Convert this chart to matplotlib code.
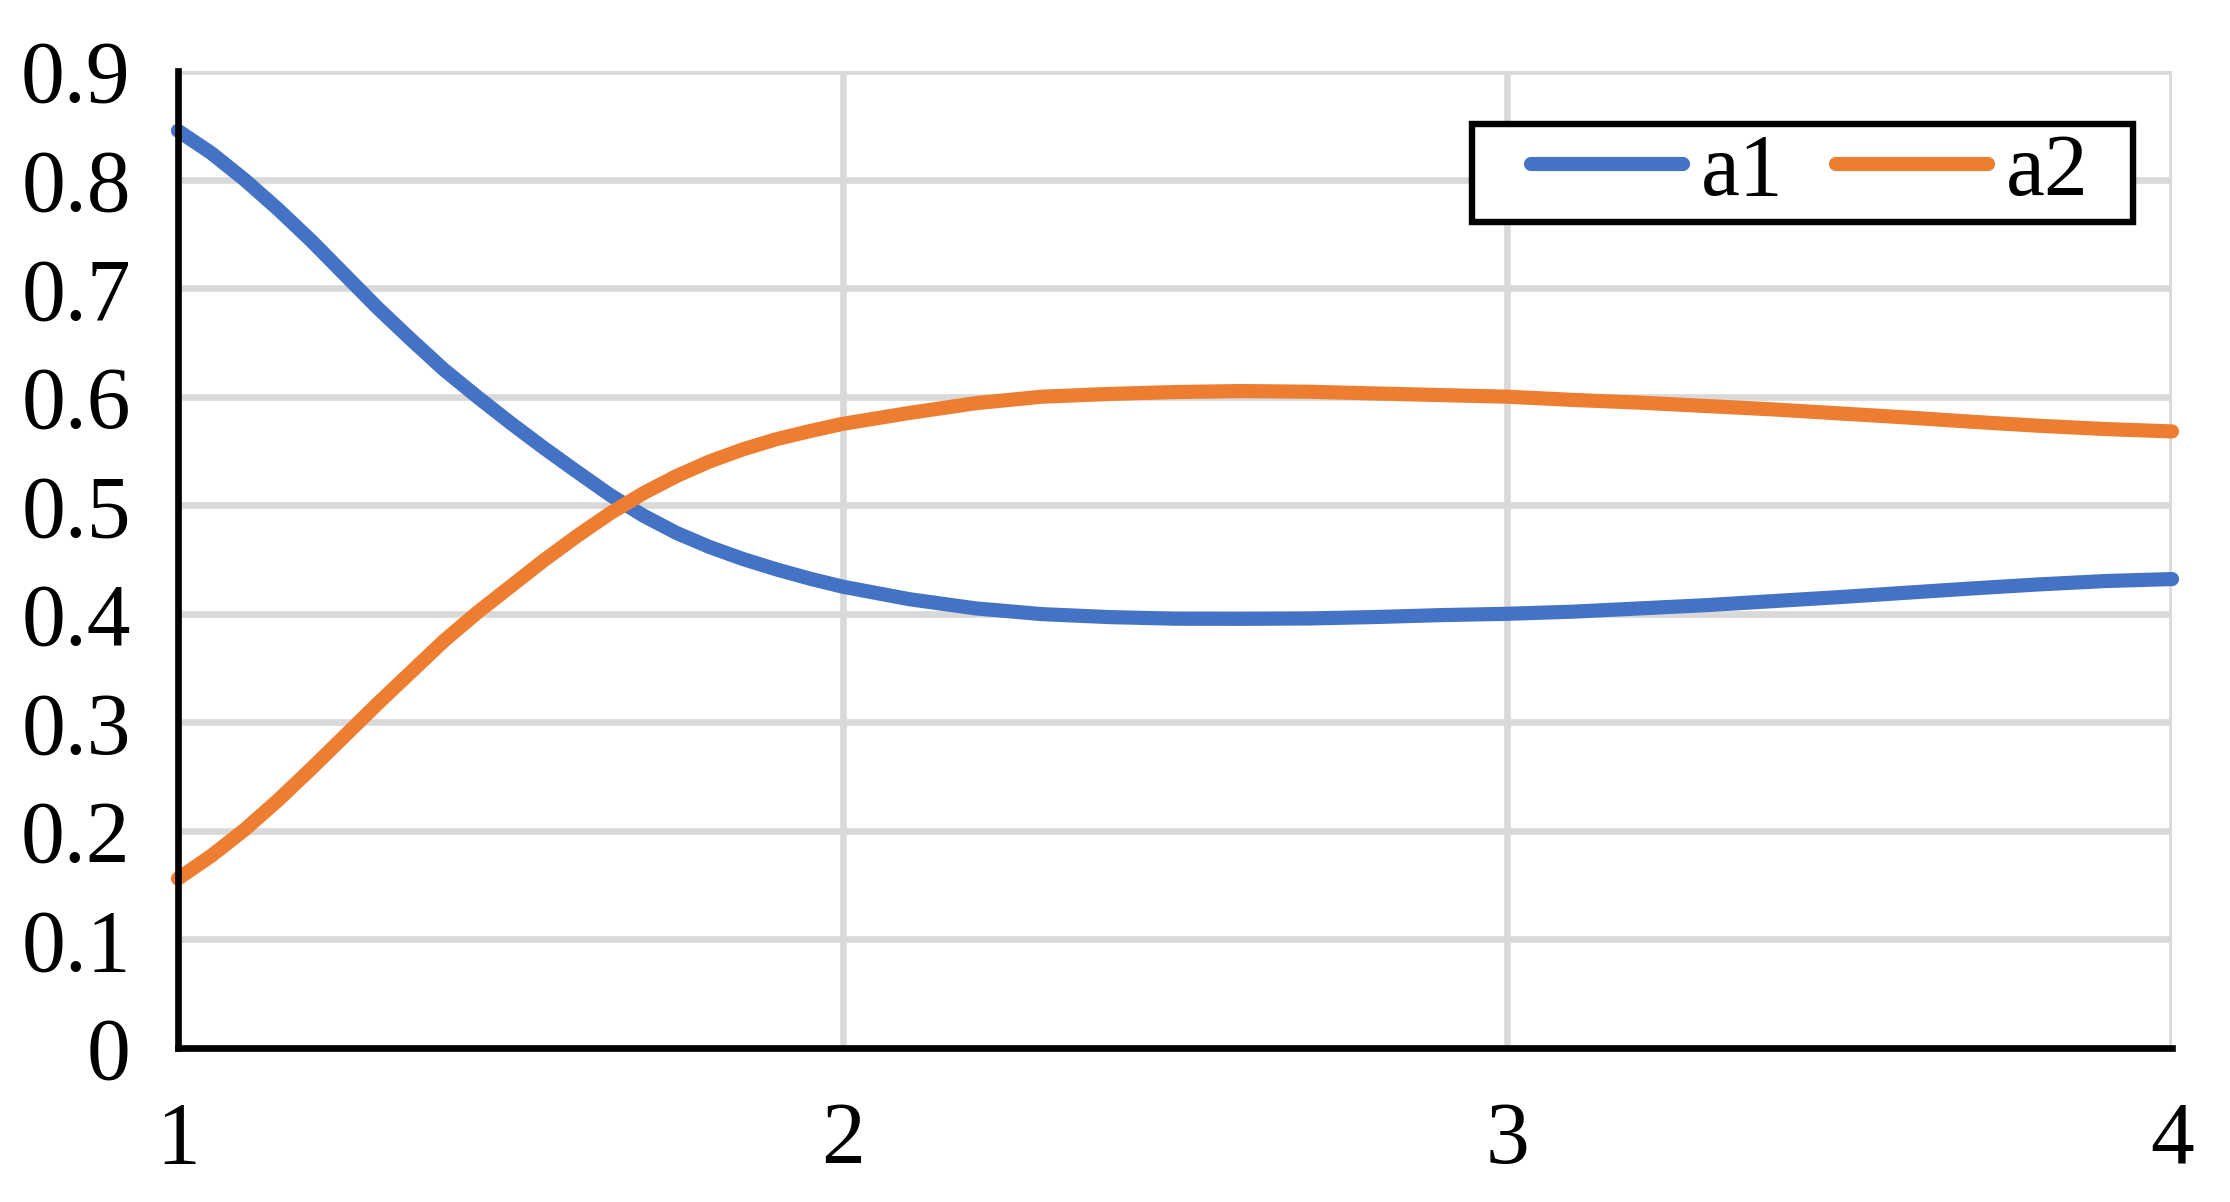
import matplotlib
matplotlib.use("Agg")
import matplotlib.pyplot as plt
from matplotlib.patches import Rectangle

# values (finer steps where the curves bend)
x = [1.00, 1.05, 1.10, 1.15, 1.20, 1.25, 1.30, 1.35, 1.40, 1.45, 1.50,
     1.55, 1.60, 1.65, 1.70, 1.75, 1.80, 1.85, 1.90, 1.95, 2.00,
     2.1, 2.2, 2.3, 2.4, 2.5, 2.6, 2.7, 2.8, 2.9, 3.0,
     3.1, 3.2, 3.3, 3.4, 3.5, 3.6, 3.7, 3.8, 3.9, 4.0]

a1 = [0.845, 0.8245, 0.800, 0.773, 0.744, 0.713, 0.682, 0.653, 0.625, 0.600, 0.576,
      0.553, 0.531, 0.5095, 0.4905, 0.4745, 0.4615, 0.4505, 0.441, 0.4325, 0.425,
      0.4135, 0.405, 0.3997, 0.397, 0.3955, 0.3954, 0.3957, 0.397, 0.3988, 0.400,
      0.402, 0.405, 0.408, 0.4117, 0.4154, 0.4194, 0.4234, 0.4271, 0.4302, 0.432]

a2 = [0.156, 0.177, 0.201, 0.228, 0.257, 0.287, 0.317, 0.346, 0.375, 0.401, 0.425,
      0.449, 0.4715, 0.4925, 0.511, 0.5269, 0.5404, 0.5515, 0.5608, 0.5682, 0.575,
      0.585, 0.594, 0.600, 0.6025, 0.6043, 0.6052, 0.6046, 0.603, 0.6015, 0.600,
      0.597, 0.5945, 0.5914, 0.5883, 0.5846, 0.5809, 0.5769, 0.5732, 0.5702, 0.568]

xticks = [1, 2, 3, 4]
yticks = [0, 0.1, 0.2, 0.3, 0.4, 0.5, 0.6, 0.7, 0.8, 0.9]
ylabels = ["0", "0.1", "0.2", "0.3", "0.4", "0.5", "0.6", "0.7", "0.8", "0.9"]

plt.rcParams['font.family'] = ['Liberation Serif', 'DejaVu Serif']
FS = 63

fig = plt.figure(figsize=(22.3, 12.02), dpi=100)
ax = fig.add_axes([0.0798, 0.1281, 0.8942, 0.8128])

ax.plot(x, a1, color="#4472C4", lw=10.2, solid_capstyle="round",
        solid_joinstyle="round", clip_on=False, label="a1", zorder=3)
ax.plot(x, a2, color="#ED7D31", lw=10.2, solid_capstyle="round",
        solid_joinstyle="round", clip_on=False, label="a2", zorder=3)

ax.set_xlim(1, 4)
ax.set_ylim(0, 0.9)
ax.set_xticks(xticks)
ax.set_xticklabels([str(t) for t in xticks])
ax.set_yticks(yticks)
ax.set_yticklabels(ylabels)

ax.grid(True, color="#D9D9D9", lw=4.8, zorder=0)
ax.set_axisbelow(True)

for s in ["top", "right"]:
    ax.spines[s].set_visible(False)
for s in ["left", "bottom"]:
    ax.spines[s].set_linewidth(4.8)
    ax.spines[s].set_color("black")
    ax.spines[s].set_zorder(4)

ax.tick_params(axis="both", length=0, labelsize=FS, colors="black")
ax.tick_params(axis="y", pad=34)
ax.tick_params(axis="x", pad=38)

leg = ax.legend(loc="center", bbox_to_anchor=(0.8182, 0.8956), ncol=2,
                fontsize=FS, frameon=False, borderaxespad=0, borderpad=0,
                handlelength=1.74, handletextpad=0.2, columnspacing=0.6)
leg.set_zorder(6)

# Excel-style box: wider padding left/right than top/bottom
fig.canvas.draw()
bb = leg.get_window_extent()
pad_left, pad_right = 59, 45
frame_h = 98
box = Rectangle((bb.x0 - pad_left, (bb.y0 + bb.y1) / 2 - frame_h / 2),
                bb.width + pad_left + pad_right, frame_h, transform=None,
                facecolor="white", edgecolor="black", lw=4.6,
                clip_on=False, zorder=5)
ax.add_artist(box)

fig.savefig("out.png", dpi=100)
